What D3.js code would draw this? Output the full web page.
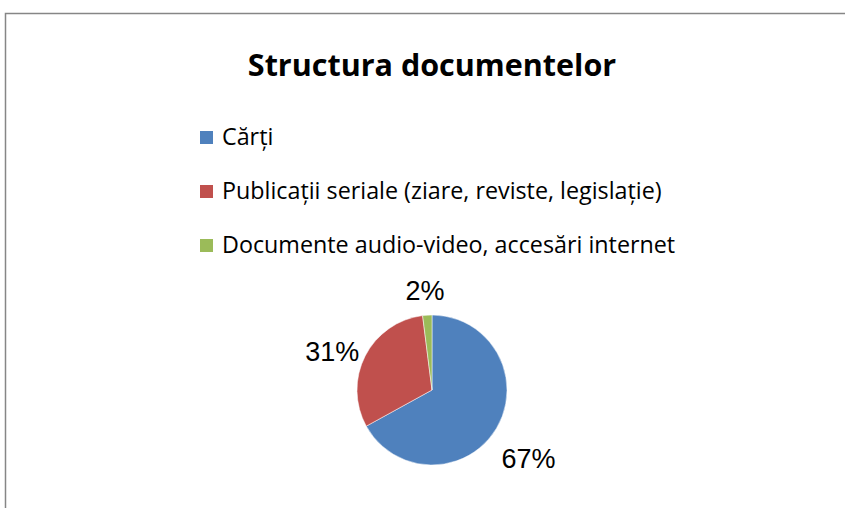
<!DOCTYPE html>
<head>
  <meta charset="utf-8">
  <script src="https://d3js.org/d3.v7.min.js"></script>
  <style>
    body { margin: 0; background: #fff; }
    svg { display: block; }
  </style>
</head>
<body>
  <svg width="845" height="508"></svg>
  <script>

  var categories = ["Cărți", "Publicații seriale (ziare, reviste, legislație)", "Documente audio-video, accesări internet"];
  var values = [67, 31, 2];
  var labels = ["67%", "31%", "2%"];
  var colors = ["#4f81bd", "#c0504d", "#9bbb59"];

  var svg = d3.select("svg"),
  width = +svg.attr("width"),
  height = +svg.attr("height");

  // chart frame
  svg.append("path")
  .attr("d", "M5.5,508 V13.5 H845")
  .attr("fill", "none")
  .attr("stroke", "#868686")
  .attr("stroke-width", 1.5);

  svg.append("text")
  .attr("x", 432)
  .attr("y", 76)
  .attr("text-anchor", "middle")
  .style("font-family", "Open Sans, sans-serif")
  .style("font-weight", "bold")
  .style("font-size", "30.5px")
  .text("Structura documentelor");

  var color = d3.scaleOrdinal().domain(categories).range(colors);

  var legend = svg.append("g")
  .selectAll("g")
  .data(categories)
  .enter().append("g")
  .attr("transform", function(d, i) { return "translate(200," + (137 + i * 54) + ")"; });

  legend.append("rect")
  .attr("x", 0)
  .attr("y", -6)
  .attr("width", 13)
  .attr("height", 13)
  .attr("fill", function(d) { return color(d); });

  legend.append("text")
  .attr("x", 22)
  .attr("y", 8)
  .style("font-family", "Open Sans, sans-serif")
  .style("font-size", "23.3px")
  .text(function(d) { return d; });

  var cx = 432, cy = 390, r = 75;

  var pie = d3.pie().sort(null).value(function(d) { return d; });
  var arc = d3.arc().innerRadius(0).outerRadius(r);
  var arcs = pie(values);

  var g = svg.append("g").attr("transform", "translate(" + cx + "," + cy + ")");

  g.selectAll("path")
  .data(arcs)
  .enter().append("path")
  .attr("d", arc)
  .attr("fill", function(d, i) { return colors[i]; })
  .attr("stroke", "#fff")
  .attr("stroke-width", 0.5);

  // labels outside slices
  var labelArc = d3.arc().innerRadius(r + 37).outerRadius(r + 37);

  g.selectAll("text")
  .data(arcs)
  .enter().append("text")
  .attr("transform", function(d, i) {
    var c = labelArc.centroid(d);
    return "translate(" + [c[0], c[1] + 12] + ")";
  })
  .attr("text-anchor", "middle")
  .attr("dy", "0.35em")
  .style("font-family", "Liberation Sans, Arial, sans-serif")
  .style("font-size", "27px")
  .text(function(d, i) { return labels[i]; });

  </script>
</body>
